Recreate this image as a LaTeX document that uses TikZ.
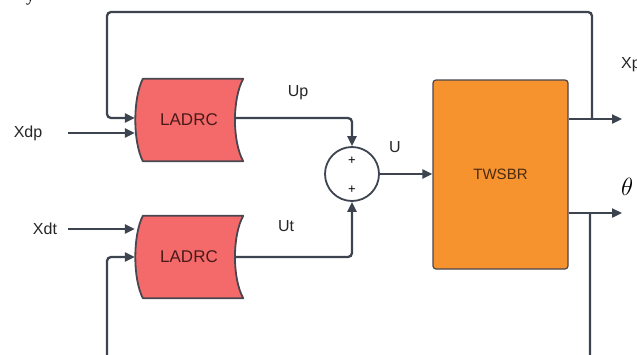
\documentclass[tikz,border=0pt]{standalone}
\usepackage{fontspec}
\setmainfont{Liberation Sans}
\newfontfamily\seriffont{Liberation Serif}
\usetikzlibrary{arrows.meta,backgrounds}
\definecolor{linec}{HTML}{3D4450}
\definecolor{ladfill}{HTML}{F46A6A}
\definecolor{ladtext}{HTML}{4A1A1A}
\definecolor{twfill}{HTML}{F7932F}
\definecolor{twtext}{HTML}{4A2A12}
\definecolor{edgec}{HTML}{4A4650}
\newcommand\ladrcshape[1]{%
  \filldraw[fill=ladfill,draw=edgec,line width=1.8pt,line join=round]
    ([xshift=8pt]#1.north west)
    .. controls ([xshift=-2pt,yshift=-20pt]#1.north west) and ([xshift=-2pt,yshift=20pt]#1.south west) ..
    ([xshift=8pt]#1.south west) -- (#1.south east)
    .. controls ([xshift=-11pt,yshift=20pt]#1.south east) and ([xshift=-11pt,yshift=-20pt]#1.north east) ..
    (#1.north east) -- cycle;}
\begin{document}
\begin{tikzpicture}[x=1pt,y=-1pt,
  conn/.style={draw=linec,line width=2.3pt,rounded corners=4pt},
  arr/.style={conn,-{Triangle[length=10pt,width=9pt]}},
  lbl/.style={font=\fontsize{16}{16}\selectfont,text=black!85,inner sep=0},
  ladrc/.style={minimum width=108pt,minimum height=82pt,inner sep=0,
    font=\fontsize{17}{17}\selectfont,text=ladtext},
  twbox/.style={minimum width=135pt,minimum height=189pt,inner sep=0,
    fill=twfill,draw=edgec,line width=1.2pt,rounded corners=3pt,
    font=\fontsize{15}{15}\selectfont,text=twtext},
  sumnode/.style={circle,draw=linec,line width=1.8pt,fill=white,minimum size=54pt,inner sep=0}]
\useasboundingbox (0,0) rectangle (637,354);
\clip (0,0) rectangle (637,354);

% blocks
\node[ladrc] (c1) at (189,120) {LADRC};
\node[ladrc] (c2) at (189,257) {LADRC};
\begin{scope}[on background layer]
  \fill[white] (0,0) rectangle (637,354);
  \ladrcshape{c1}
  \ladrcshape{c2}
\end{scope}
\node[sumnode] (sum) at (352,174) {};
\node[font=\fontsize{13}{13}\selectfont,inner sep=0] (pl1) at (352,161) {+};
\node[font=\fontsize{13}{13}\selectfont,inner sep=0] (pl2) at (352,190) {+};
\node[twbox] (tw) at (500.5,174.5) {TWSBR};

% labels
\node[lbl] (xdp) at (28,133) {Xdp};
\node[lbl] (xdt) at (45,229) {Xdt};
\node[lbl] (up) at (298,93) {Up};
\node[lbl] (ut) at (286,226) {Ut};
\node[lbl] (u) at (395,147) {U};
\node[lbl,anchor=west] (xp) at (621,65) {Xp};
\node[anchor=west,inner sep=0,font=\fontsize{24}{24}\selectfont] (th) at (621,187) {$\theta$};
\node[anchor=base west,inner sep=0,font=\seriffont\fontsize{17}{17}\selectfont] (yfrag) at (26,1) {y};

% coordinates
\coordinate (xdps) at (68,133);
\coordinate (xdts) at (68,229);
\coordinate (c1in) at ([yshift=2pt]c1.west);
\coordinate (c1out) at ([xshift=-8pt,yshift=2pt]c1.east);
\coordinate (c2out) at ([xshift=-8pt]c2.east);
\coordinate (xpo) at (622,119);
\coordinate (xb) at (592,119);
\coordinate (tho) at (622,213);
\coordinate (thb) at (590,213);
\coordinate (tl) at (107,12);
\coordinate (bl) at (107,372);

% connectors
\draw[arr] (xdps) -- (xdps -| c1.west);
\draw[arr] (xdts) -- (xdts -| c2.west);
\draw[arr] (c1out) -| (sum.north);
\draw[arr] (c2out) -| (sum.south);
\draw[arr] (sum.east) -- (tw.west |- sum.east);
\draw[arr] (tw.east |- xpo) -- (xpo);
\draw[arr] (tw.east |- tho) -- (tho);
\draw[arr] (xb) |- (tl) |- (c1in);
\draw[arr] (thb) |- (bl) |- (c2.west);
\end{tikzpicture}
\end{document}
